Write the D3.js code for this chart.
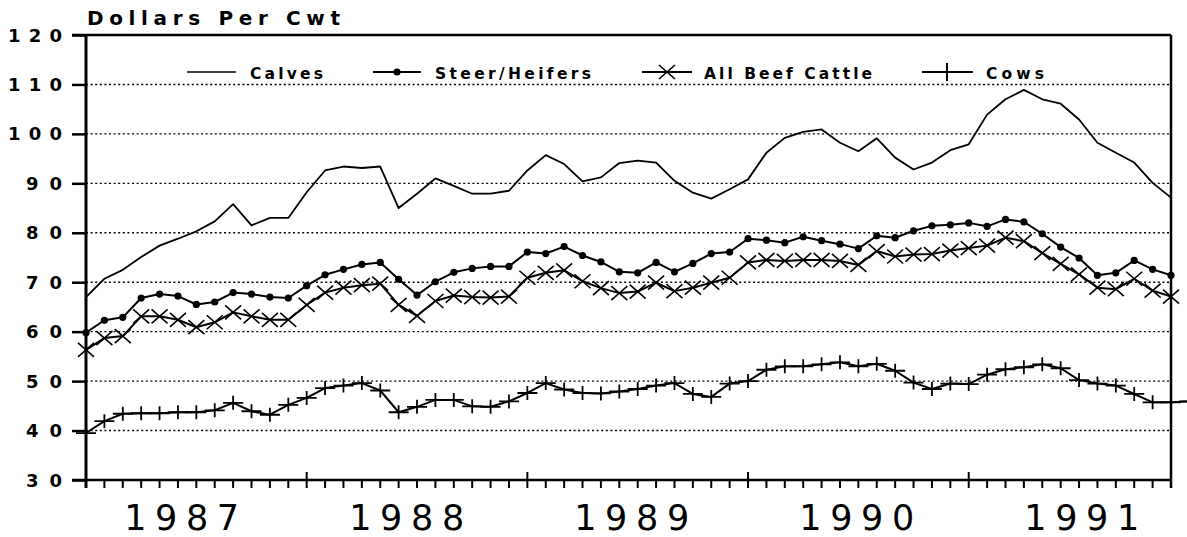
<!DOCTYPE html>
<html>
<head>
<meta charset="utf-8">
<script src="https://cdn.jsdelivr.net/npm/d3@7"></script>
<style>
  body { margin: 0; background: #fff; }
  svg { display: block; }
  text { font-family: "DejaVu Sans", Verdana, sans-serif; fill: #000; }
</style>
</head>
<body>
<div id="chart"></div>
<script>
// monthly prices, Jan 1987 onwards (dollars per cwt)
var years = [1987, 1988, 1989, 1990, 1991];
var yTicks = [30, 40, 50, 60, 70, 80, 90, 100, 110, 120];

var calves = [67.0, 70.7, 72.5, 75.1, 77.4, 78.8, 80.3, 82.3, 85.8, 81.5, 83.0, 83.0,
        88.2, 92.6, 93.4, 93.1, 93.4, 85.0, 87.9, 91.0, 89.5, 87.9, 87.9, 88.5,
        92.6, 95.7, 93.9, 90.4, 91.2, 94.1, 94.6, 94.2, 90.5, 88.1, 86.9, 88.8,
        90.8, 96.2, 99.2, 100.4, 100.9, 98.2, 96.5, 99.1, 95.2, 92.8, 94.2, 96.7,
        97.9, 103.9, 107.0, 108.9, 107.0, 106.1, 102.9, 98.2, 96.2, 94.2, 90.1, 87.1];

var steers = [59.8, 62.3, 62.9, 66.8, 67.6, 67.2, 65.5, 66.0, 67.9, 67.6, 67.0, 66.8,
        69.3, 71.5, 72.6, 73.6, 74.0, 70.6, 67.4, 70.1, 72.0, 72.8, 73.2, 73.2,
        76.1, 75.8, 77.2, 75.4, 74.1, 72.1, 71.9, 74.0, 72.1, 73.8, 75.8, 76.1,
        78.8, 78.5, 78.0, 79.2, 78.4, 77.7, 76.8, 79.4, 79.0, 80.4, 81.4, 81.6,
        82.0, 81.3, 82.7, 82.2, 79.8, 77.1, 74.9, 71.4, 71.9, 74.4, 72.6, 71.4];

var allBeef = [56.3, 58.7, 59.1, 63.1, 63.1, 62.4, 60.9, 61.9, 63.9, 63.1, 62.4, 62.4,
        65.4, 67.9, 68.9, 69.4, 69.7, 65.4, 63.2, 66.2, 67.3, 67.0, 66.9, 67.1,
        70.9, 71.9, 72.4, 70.2, 68.8, 67.8, 68.1, 69.9, 68.2, 68.9, 69.9, 70.9,
        74.0, 74.5, 74.3, 74.5, 74.5, 74.3, 73.5, 76.3, 75.2, 75.6, 75.7, 76.4,
        76.9, 77.4, 79.0, 78.3, 75.9, 73.7, 71.6, 68.9, 68.6, 70.7, 68.3, 67.1];

var cows = [39.5, 41.9, 43.4, 43.5, 43.5, 43.7, 43.7, 44.1, 45.6, 43.9, 43.2, 45.2,
        46.6, 48.6, 49.1, 49.6, 48.1, 43.7, 44.8, 46.2, 46.2, 44.9, 44.8, 45.9,
        47.6, 49.6, 48.3, 47.6, 47.5, 47.9, 48.4, 49.1, 49.6, 47.4, 46.8, 49.5,
        50.0, 52.3, 53.0, 53.0, 53.4, 53.8, 53.0, 53.5, 52.1, 49.7, 48.4, 49.5,
        49.4, 51.3, 52.4, 52.8, 53.4, 52.6, 50.2, 49.5, 49.1, 47.4, 45.7, 45.7,
        45.9];

var W = 1187, H = 537;
var LEFT = 86, RIGHT = 1171, TOP = 35, BOTTOM = 480;

var svg = d3.select("#chart").append("svg")
        .attr("width", W)
        .attr("height", H);

svg.append("rect").attr("width", W).attr("height", H).attr("fill", "#fff");

var x = d3.scaleLinear().domain([0, 59]).range([LEFT, RIGHT]);
var y = d3.scaleLinear().domain([30, 120]).range([BOTTOM, TOP]);
// year labels sit a little wider apart than the month ticks
var xYear = d3.scaleLinear().domain([1987, 1991]).range([x(5.2), x(54.15)]);

// dotted gridlines
svg.append("g")
        .selectAll("line")
        .data(yTicks.filter(function(d) { return d > 30 && d < 120; }))
        .join("line")
        .attr("x1", LEFT).attr("x2", RIGHT)
        .attr("y1", function(d) { return y(d); })
        .attr("y2", function(d) { return y(d); })
        .attr("stroke", "#000")
        .attr("stroke-width", 1.4)
        .attr("stroke-dasharray", "2,2.6");

// frame: top and right
svg.append("line").attr("x1", 72).attr("x2", RIGHT).attr("y1", y(120)).attr("y2", y(120))
        .attr("stroke", "#000").attr("stroke-width", 2.5);
svg.append("line").attr("x1", RIGHT).attr("x2", RIGHT).attr("y1", y(120)).attr("y2", BOTTOM + 8)
        .attr("stroke", "#000").attr("stroke-width", 2.5);

// y axis
var yAxis = d3.axisLeft(y).tickValues(yTicks).tickSize(14).tickFormat("");
var gy = svg.append("g").attr("transform", "translate(" + LEFT + ",0)").call(yAxis);
gy.select(".domain").remove();
gy.selectAll(".tick line").attr("stroke", "#000").attr("stroke-width", 2.5);
svg.append("line").attr("x1", LEFT).attr("x2", LEFT).attr("y1", y(120)).attr("y2", BOTTOM + 8)
        .attr("stroke", "#000").attr("stroke-width", 3);

svg.append("g").selectAll("text")
        .data(yTicks)
        .join("text")
        .attr("x", 62)
        .attr("y", function(d) { return y(d) + 6.5; })
        .attr("text-anchor", "end")
        .attr("font-size", 18)
        .attr("font-weight", "bold")
        .attr("textLength", function(d) { return String(d).length * 18; })
        .attr("lengthAdjust", "spacing")
        .text(function(d) { return d; });

// x axis: month ticks, bigger ones at each January
var months = d3.range(0, 60);
svg.append("line").attr("x1", 72).attr("x2", RIGHT).attr("y1", BOTTOM).attr("y2", BOTTOM)
        .attr("stroke", "#000").attr("stroke-width", 2.5);
svg.append("g").selectAll("line")
        .data(months)
        .join("line")
        .attr("x1", function(d) { return x(d); })
        .attr("x2", function(d) { return x(d); })
        .attr("y1", function(d) { return d % 12 === 0 && d > 0 ? BOTTOM - 8 : BOTTOM; })
        .attr("y2", BOTTOM + 8)
        .attr("stroke", "#000")
        .attr("stroke-width", 2);

svg.append("g").selectAll("text")
        .data(years)
        .join("text")
        .attr("x", function(d) { return xYear(d); })
        .attr("y", 530)
        .attr("text-anchor", "middle")
        .attr("font-size", 35)
        .attr("textLength", 115)
        .attr("lengthAdjust", "spacing")
        .text(function(d) { return d; });

// title
svg.append("text")
        .attr("x", 87)
        .attr("y", 25)
        .attr("font-size", 20)
        .attr("font-weight", "bold")
        .attr("textLength", 253)
        .attr("lengthAdjust", "spacing")
        .text("Dollars Per Cwt");

// series
var line = d3.line()
        .x(function(d, i) { return x(i); })
        .y(function(d) { return y(d); });

function drawSeries(values, width) {
        svg.append("path")
                .datum(values)
                .attr("d", line)
                .attr("fill", "none")
                .attr("stroke", "#000")
                .attr("stroke-width", width)
                .attr("stroke-linejoin", "round");
}

function crossPath(cx, cy) {
        return "M" + (cx - 8) + "," + (cy - 7) + "L" + (cx + 8) + "," + (cy + 7) +
                "M" + (cx - 8) + "," + (cy + 7) + "L" + (cx + 8) + "," + (cy - 7);
}

function plusPath(cx, cy, hw, hh) {
        return "M" + (cx - hw) + "," + cy + "L" + (cx + hw) + "," + cy +
                "M" + cx + "," + (cy - hh) + "L" + cx + "," + (cy + hh);
}

drawSeries(calves, 1.8);
drawSeries(steers, 2);
drawSeries(allBeef, 2);
drawSeries(cows, 2);

svg.append("g").selectAll("circle")
        .data(steers)
        .join("circle")
        .attr("cx", function(d, i) { return x(i); })
        .attr("cy", function(d) { return y(d); })
        .attr("r", 3.6)
        .attr("fill", "#000");

svg.append("g").selectAll("path")
        .data(allBeef)
        .join("path")
        .attr("d", function(d, i) { return crossPath(x(i), y(d)); })
        .attr("stroke", "#000")
        .attr("stroke-width", 1.6)
        .attr("fill", "none");

svg.append("g").selectAll("path")
        .data(cows)
        .join("path")
        .attr("d", function(d, i) { return plusPath(x(i), y(d), 10, 7); })
        .attr("stroke", "#000")
        .attr("stroke-width", 1.8)
        .attr("fill", "none");

// legend
var LY = 72;
var legend = svg.append("g");

legend.append("line").attr("x1", 187).attr("x2", 236).attr("y1", LY).attr("y2", LY)
        .attr("stroke", "#000").attr("stroke-width", 1.6);
legend.append("line").attr("x1", 373).attr("x2", 421).attr("y1", LY).attr("y2", LY)
        .attr("stroke", "#000").attr("stroke-width", 2.2);
legend.append("circle").attr("cx", 397).attr("cy", LY).attr("r", 3.6).attr("fill", "#000");
legend.append("line").attr("x1", 642).attr("x2", 692).attr("y1", LY).attr("y2", LY)
        .attr("stroke", "#000").attr("stroke-width", 2.2);
legend.append("path").attr("d", crossPath(667, LY)).attr("stroke", "#000").attr("stroke-width", 1.6);
legend.append("line").attr("x1", 922).attr("x2", 973).attr("y1", LY).attr("y2", LY)
        .attr("stroke", "#000").attr("stroke-width", 2.2);
legend.append("path").attr("d", plusPath(947, LY, 0, 9)).attr("stroke", "#000").attr("stroke-width", 2);

var legendLabels = [
        {text: "Calves", x: 250, w: 73},
        {text: "Steer/Heifers", x: 435, w: 156},
        {text: "All Beef Cattle", x: 704, w: 168},
        {text: "Cows", x: 986, w: 58}
];
legend.selectAll("text")
        .data(legendLabels)
        .join("text")
        .attr("x", function(d) { return d.x; })
        .attr("y", 79)
        .attr("font-size", 15.5)
        .attr("font-weight", "bold")
        .attr("textLength", function(d) { return d.w; })
        .attr("lengthAdjust", "spacing")
        .text(function(d) { return d.text; });
</script>
</body>
</html>
